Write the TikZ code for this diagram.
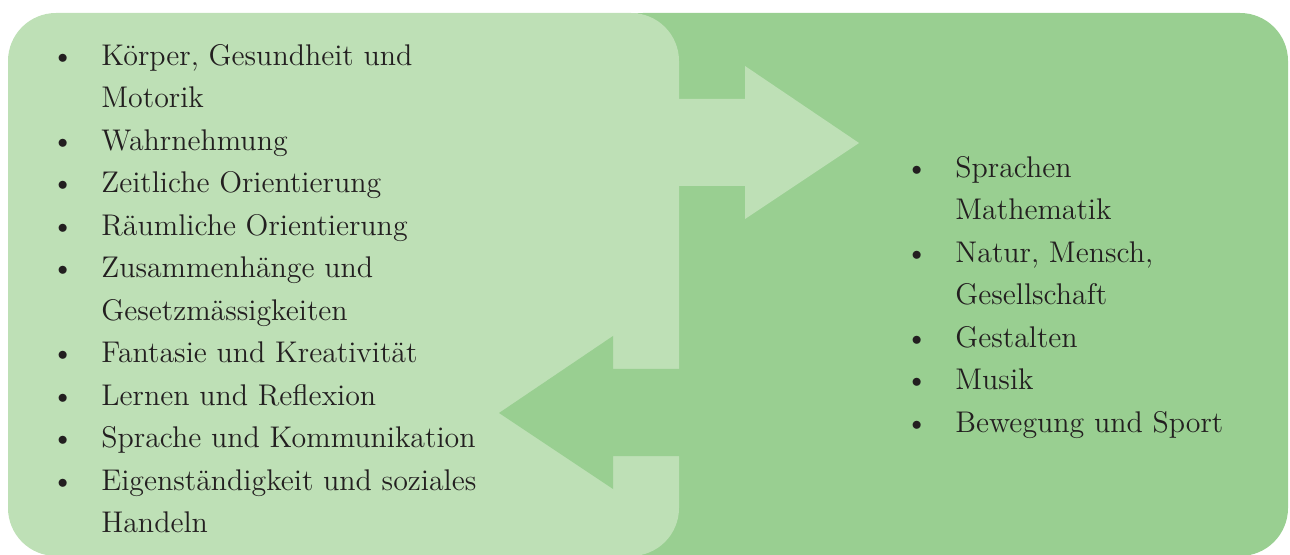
\documentclass[tikz,border=0pt]{standalone}
\usepackage{array}
\definecolor{lightgreen}{HTML}{BEE0B6}
\definecolor{darkgreen}{HTML}{99CF91}
\definecolor{ink}{HTML}{231F20}

\begin{document}
\begin{tikzpicture}[x=0.5pt,y=-0.5pt,
    box/.style={rounded corners=24pt},
    list/.style={inner sep=0pt,anchor=north west,text=ink,font=\fontsize{14.95}{21.25}\selectfont}]
  \useasboundingbox (0,0) rectangle (1290,555);
  \fill[darkgreen,box] (595,13) rectangle (1288,556);
  \fill[lightgreen,box] (8,13) rectangle (679,556);
  \fill[lightgreen] (670,99) -- (745,99) -- (745,66) -- (859,143) -- (745,219) -- (745,186) -- (670,186) -- cycle;
  \fill[darkgreen] (690,369) -- (613,369) -- (613,336) -- (499,413) -- (613,489) -- (613,456) -- (690,456) -- cycle;

  \node[list] (competences) at (51,35.25) {\begin{tabular}{@{}p{25pt}@{}l@{}}
    \textbullet & Körper, Gesundheit und\\
                & Motorik\\
    \textbullet & Wahrnehmung\\
    \textbullet & Zeitliche Orientierung\\
    \textbullet & Räumliche Orientierung\\
    \textbullet & Zusammenhänge und\\
                & Gesetzmässigkeiten\\
    \textbullet & Fantasie und Kreativität\\
    \textbullet & Lernen und Reflexion\\
    \textbullet & Sprache und Kommunikation\\
    \textbullet & Eigenständigkeit und soziales\\
                & Handeln
  \end{tabular}};
  \node[list] (subjects) at (905,147.25) {\begin{tabular}{@{}p{25pt}@{}l@{}}
    \textbullet & Sprachen\\
                & Mathematik\\
    \textbullet & Natur, Mensch,\\
                & Gesellschaft\\
    \textbullet & Gestalten\\
    \textbullet & Musik\\
    \textbullet & Bewegung und Sport
  \end{tabular}};
\end{tikzpicture}
\end{document}
